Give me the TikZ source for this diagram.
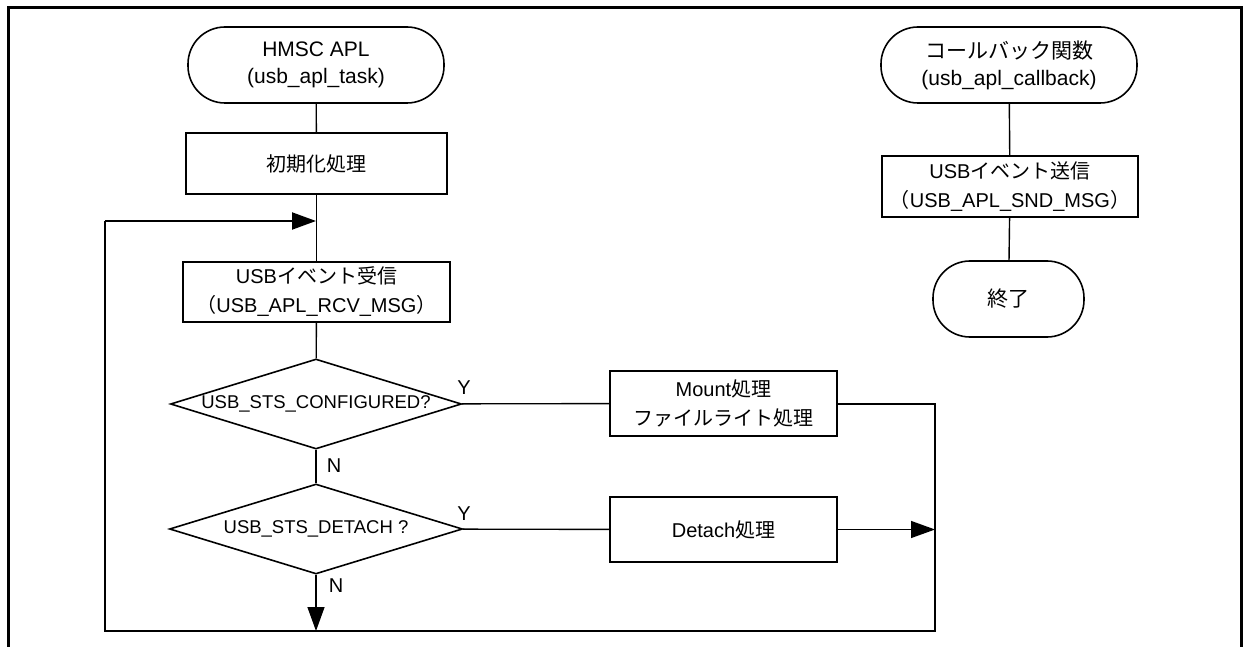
\documentclass[tikz,border=0pt]{standalone}
\usepackage{fontspec}
\setmainfont{Liberation Sans}
\newfontfamily\jp{Noto Sans CJK JP}
\usetikzlibrary{arrows.meta,shapes.geometric}
\begin{document}
\begin{tikzpicture}[x=1pt,y=-1pt,
  term/.style={draw, line width=1.6pt, rounded corners=37pt, align=center,
    font=\fontsize{21}{27}\selectfont, inner sep=0pt},
  proc/.style={draw, line width=1.6pt, align=center,
    font=\fontsize{20}{29}\selectfont, inner sep=0pt},
  dec/.style={draw, diamond, line width=1.6pt, inner sep=0pt,
    font=\fontsize{18.5}{22}\selectfont},
  conn/.style={line width=1.4pt},
  loopline/.style={line width=2pt},
  arr/.style={-{Triangle[length=24pt,width=17pt]}},
  yn/.style={font=\fontsize{20}{20}\selectfont, inner sep=0pt}]
\useasboundingbox (0,0) rectangle (1243,647);
% frame
\draw[line width=3pt] (8,660) -- (8,8) -- (1241,8) -- (1241,660);

% left flow
\node[term, minimum width=256pt, minimum height=76pt] (hmsc) at (316,65)
  {HMSC APL\\(usb\_apl\_task)};
\node[proc, minimum width=261pt, minimum height=61pt] (init) at (316.5,163.5)
  {{\jp 初期化処理}};
\node[proc, minimum width=267pt, minimum height=60pt] (recv) at (316.5,292)
  {USB{\jp イベント受信}\\{\jp （}USB\_APL\_RCV\_MSG{\jp ）}};
\node[dec, minimum width=291pt, minimum height=90pt] (d1) at (316,404)
  {\makebox[0pt]{USB\_STS\_CONFIGURED?}};
\node[dec, minimum width=293pt, minimum height=90pt] (d2) at (316,529)
  {\makebox[0pt]{USB\_STS\_DETACH ?}};
\node[proc, minimum width=227pt, minimum height=65pt] (mount) at (723.5,403.5)
  {Mount{\jp 処理}\\{\jp ファイルライト処理}};
\node[proc, minimum width=227pt, minimum height=65pt] (detach) at (723.5,529.5)
  {Detach{\jp 処理}};

\coordinate (rt) at (935,400);
\coordinate (rb) at (935,631);
\coordinate (lb) at (105,631);
\coordinate (lt) at (105,221);
\coordinate (mt) at (316,221);
\coordinate (db) at (316,631);

\draw[conn] (hmsc) -- (init);
\draw[conn] (init) -- (recv);
\draw[conn] (recv) -- (d1);
\draw[conn] (d1) -- (d2);
\draw[conn, arr] (d2) -- (db);
\draw[conn] (d1) -- (mount);
\draw[conn] (d2) -- (detach);
\draw[conn, arr] (detach.east) -- (detach.east -| rb);
\draw[loopline] (mount.east) -- (mount.east -| rt) -- (rb) -- (lb) -- (lt);
\draw[loopline, arr] (lt) -- (mt);

\node[yn] (y1) at (464,388) {Y};
\node[yn] (n1) at (334,466) {N};
\node[yn] (y2) at (464,514) {Y};
\node[yn] (n2) at (336,586) {N};

% right flow
\node[term, minimum width=256pt, minimum height=76pt] (cb) at (1009,65)
  {{\jp コールバック関数}\\(usb\_apl\_callback)};
\node[proc, minimum width=256pt, minimum height=61pt] (snd) at (1010,186.5)
  {USB{\jp イベント送信}\\{\jp （}USB\_APL\_SND\_MSG{\jp ）}};
\node[term, minimum width=151pt, minimum height=76pt] (fin) at (1008.5,299)
  {{\jp 終了}};
\draw[conn] (cb) -- (snd);
\draw[conn] (snd) -- (fin);
\end{tikzpicture}
\end{document}
